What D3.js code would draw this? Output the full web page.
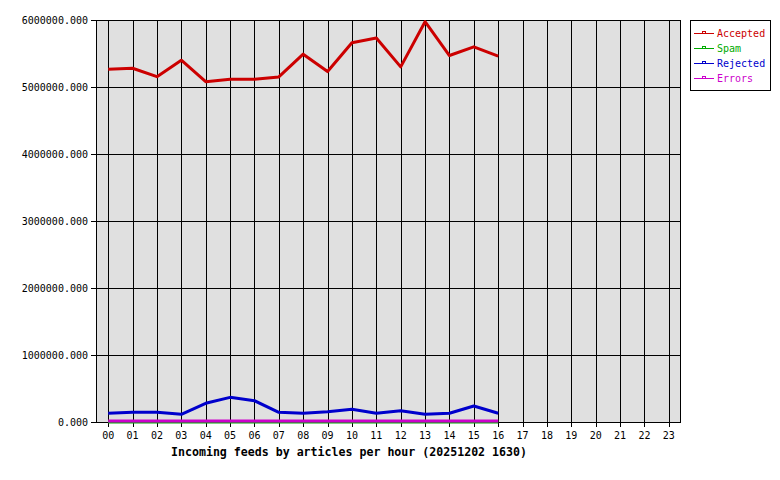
<!DOCTYPE html>
<html><head><meta charset="utf-8">
<script src="https://cdn.jsdelivr.net/npm/d3@7"></script>
<style>
body{margin:0;background:#fff;}
text{font-family:"DejaVu Sans Mono",monospace;}
</style></head>
<body><svg id="c" width="780" height="480"></svg>
<script>
const hours = ["00","01","02","03","04","05","06","07","08","09","10","11","12","13","14","15","16","17","18","19","20","21","22","23"];
const yTicks = [0,1000000,2000000,3000000,4000000,5000000,6000000];
const accepted = [5264000,5280000,5154000,5400000,5080000,5115000,5115000,5150000,5490000,5230000,5660000,5730000,5300000,5975000,5470000,5600000,5460000];
const spam     = [0,0,0,0,0,0,0,0,0,0,0,0,0,0,0,0,0];
const rejected = [130000,145000,145000,115000,279000,368000,318000,145000,130000,154000,189000,130000,169000,115000,130000,239000,130000];
const errors   = [15000,15000,15000,15000,15000,15000,15000,15000,15000,15000,15000,15000,15000,15000,15000,15000,15000];
const seriesNames = ["Accepted","Spam","Rejected","Errors"];
const seriesColors = ["#cc0000","#00aa00","#0000cc","#cc00cc"];
const seriesData = [accepted, spam, rejected, errors];
const title = "Incoming feeds by articles per hour (20251202 1630)";

const svg = d3.select("#c");
const L=96, R=681, T=20, B=422;
const x = d3.scalePoint().domain(hours).range([L,R]).padding(0.5);
const y = d3.scaleLinear().domain([0,6000000]).range([B,T]);

svg.append("rect").attr("x",L).attr("y",T).attr("width",R-L).attr("height",B-T).attr("fill","#e0e0e0");

const g = svg.append("g").attr("shape-rendering","crispEdges");
// vertical grid + ticks
g.selectAll(".vg").data(hours).join("line")
  .attr("x1",d=>Math.round(x(d))+0.5).attr("x2",d=>Math.round(x(d))+0.5)
  .attr("y1",T).attr("y2",B+5).attr("stroke","#000").attr("stroke-width",1);
// horizontal grid + ticks
g.selectAll(".hg").data(yTicks).join("line")
  .attr("x1",L-5).attr("x2",R)
  .attr("y1",d=>Math.round(y(d))+0.5).attr("y2",d=>Math.round(y(d))+0.5)
  .attr("stroke","#000").attr("stroke-width",1);
g.append("rect").attr("x",L+0.5).attr("y",T+0.5).attr("width",R-L-1).attr("height",B-T).attr("fill","none").attr("stroke","#000");

// tick labels
svg.selectAll(".yl").data(yTicks).join("text")
  .attr("x",88).attr("y",d=>y(d)+4).attr("text-anchor","end")
  .attr("font-size",10).attr("fill","#000")
  .text(d=>d3.format(".3f")(d));
svg.selectAll(".xl").data(hours).join("text")
  .attr("x",d=>x(d)).attr("y",438.5).attr("text-anchor","middle")
  .attr("font-size",10).attr("fill","#000").text(d=>d);
svg.append("text").attr("x",349).attr("y",456).attr("text-anchor","middle")
  .attr("font-size",11.6).attr("font-weight","bold").attr("fill","#000").text(title);

// lines
const line = d3.line().x((d,i)=>x(hours[i])).y(d=>y(d));
seriesData.forEach((s,k)=>{
  svg.append("path").datum(s).attr("d",line).attr("fill","none")
    .attr("stroke",seriesColors[k]).attr("stroke-width",3).attr("stroke-linejoin","round");
});

// legend
const lg = svg.append("g");
lg.append("rect").attr("x",690.5).attr("y",20.5).attr("width",80).attr("height",70)
  .attr("fill","#fff").attr("stroke","#000").attr("shape-rendering","crispEdges");
seriesNames.forEach((n,k)=>{
  const cy = 33 + k*15;
  lg.append("line").attr("x1",694).attr("x2",714).attr("y1",cy+0.5).attr("y2",cy+0.5)
    .attr("stroke",seriesColors[k]).attr("stroke-width",1).attr("shape-rendering","crispEdges");
  lg.append("rect").attr("x",702.5).attr("y",cy-1.5).attr("width",3).attr("height",2)
    .attr("fill","none").attr("stroke",seriesColors[k]).attr("stroke-width",1).attr("shape-rendering","crispEdges");
  lg.append("text").attr("x",717).attr("y",cy+3.5).attr("font-size",10)
    .attr("fill",seriesColors[k]).text(n);
});
</script></body></html>
